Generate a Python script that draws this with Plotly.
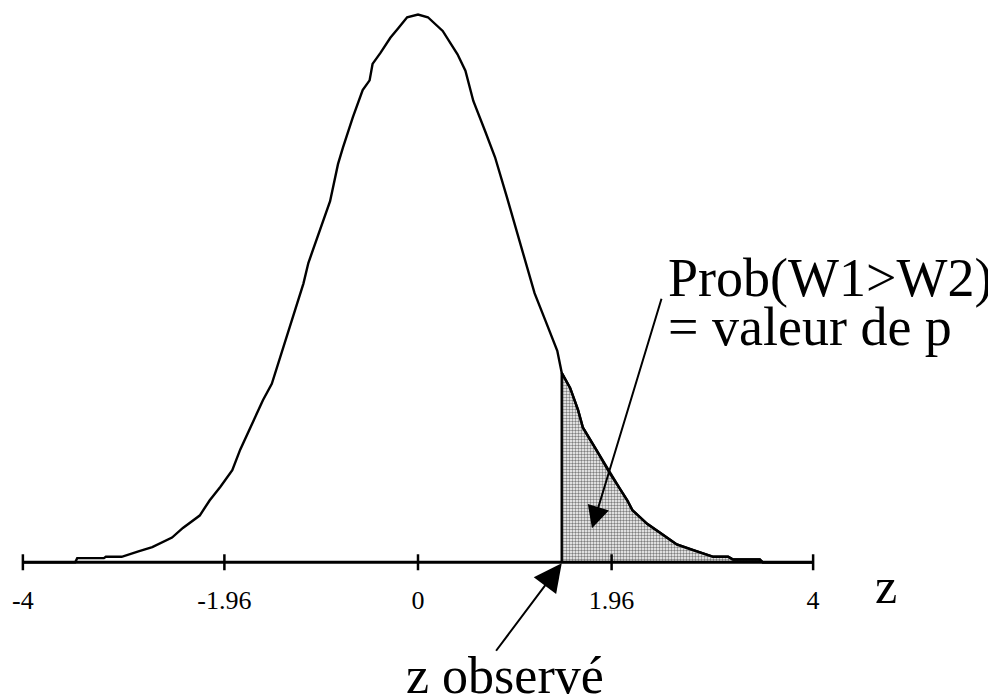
import plotly.graph_objects as go

# ---- data ----
curve_x = [-4.00, -3.47, -3.45, -3.18, -3.16, -3.00, -2.83, -2.69, -2.49, -2.38, -2.21, -2.11,
           -2.00, -1.88, -1.80, -1.57, -1.48, -1.40, -1.30, -1.20, -1.16, -1.11, -1.04, -0.97,
           -0.89, -0.81, -0.76, -0.66, -0.56, -0.49, -0.46, -0.38, -0.28, -0.20, -0.11, 0.00,
           0.10, 0.25, 0.40, 0.48, 0.56, 0.68, 0.78, 0.90, 1.03, 1.10, 1.18, 1.29, 1.41, 1.455,
           1.54, 1.62, 1.67, 1.82, 1.94, 2.04, 2.12, 2.17, 2.32, 2.48, 2.62, 2.78, 2.99, 3.14,
           3.19, 3.46, 3.49, 4.00]
curve_y = [0.000, 0.000, 0.003, 0.003, 0.004, 0.004, 0.008, 0.011, 0.018, 0.025, 0.034, 0.045,
           0.055, 0.067, 0.082, 0.118, 0.130, 0.148, 0.170, 0.193, 0.203, 0.218, 0.232, 0.247,
           0.263, 0.290, 0.302, 0.324, 0.344, 0.351, 0.363, 0.371, 0.382, 0.389, 0.397, 0.399,
           0.397, 0.387, 0.370, 0.358, 0.336, 0.314, 0.295, 0.266, 0.234, 0.215, 0.196, 0.176,
           0.154, 0.138, 0.127, 0.111, 0.098, 0.080, 0.065, 0.054, 0.045, 0.038, 0.028, 0.020,
           0.013, 0.009, 0.004, 0.004, 0.002, 0.002, 0.000, 0.000]
z_obs = 1.455
tick_vals = [-4, -1.96, 0, 1.96, 4]
tick_text = ["-4", "-1.96", "0", "1.96", "4"]
axis_title = "z"
label_obs = "z observé"
label_p1 = "Prob(W1>W2)"
label_p2 = "= valeur de p"

# ---- geometry (screen pixels; the page body adds an 8px offset) ----
OFF = 8
W_FIG, H_FIG = 996, 700
X0_PX, X_SCALE = 418.0 - OFF, 98.8      # px of z=0 inside the figure, px per unit
Y0_PX, Y_SCALE = 562.0 - OFF, 1373.0    # px of density 0 inside the figure, px per unit
x_rng = [-4.1, 4.1]
y_rng = [-0.010, 0.4030]
m_l = X0_PX + x_rng[0] * X_SCALE
m_r = W_FIG - (X0_PX + x_rng[1] * X_SCALE)
m_t = max(0.0, Y0_PX - y_rng[1] * Y_SCALE)
m_b = H_FIG - (Y0_PX - y_rng[0] * Y_SCALE)
plot_w = W_FIG - m_l - m_r
plot_h = H_FIG - m_t - m_b


def dx(px):
    return (px - OFF - X0_PX) / X_SCALE


def dy(py):
    return (Y0_PX - (py - OFF)) / Y_SCALE


def paper_x(px):
    return (px - OFF - m_l) / plot_w


def paper_y(py):
    return (H_FIG - m_b - (py - OFF)) / plot_h


FONT = "Liberation Serif, Times New Roman, serif"

tail_x = [z_obs] + [x for x in curve_x if x >= z_obs]
tail_y = [0.0] + [y for x, y in zip(curve_x, curve_y) if x >= z_obs]

fig = go.Figure()
fig.add_trace(go.Scatter(
    x=tail_x, y=tail_y, mode="lines", fill="tozeroy",
    line=dict(color="black", width=2.4),
    fillcolor="white",
    fillpattern=dict(shape=".", size=3, solidity=0.5, fgcolor="black", bgcolor="white"),
    hoverinfo="skip", showlegend=False))
fig.add_trace(go.Scatter(
    x=curve_x, y=curve_y, mode="lines",
    line=dict(color="black", width=2.4),
    hoverinfo="skip", showlegend=False))

shapes = [dict(type="line", xref="x", yref="y", x0=-4, x1=4, y0=0, y1=0,
               line=dict(color="black", width=3))]
for tv in tick_vals:
    shapes.append(dict(type="line", xref="x", yref="y", x0=tv, x1=tv,
                       ysizemode="pixel", yanchor=0, y0=-8, y1=8,
                       line=dict(color="black", width=2.5)))

annotations = [
    dict(text=axis_title, xref="paper", yref="paper", x=paper_x(886), y=paper_y(586),
         xanchor="center", yanchor="middle", showarrow=False,
         font=dict(family=FONT, size=50, color="black")),
    dict(text=label_obs, xref="paper", yref="paper", x=paper_x(505), y=paper_y(675),
         xanchor="center", yanchor="middle", showarrow=False,
         font=dict(family=FONT, size=52, color="black")),
    dict(text=label_p1, xref="paper", yref="paper", x=paper_x(666), y=paper_y(278),
         xanchor="left", yanchor="middle", showarrow=False,
         font=dict(family=FONT, size=54, color="black")),
    dict(text=label_p2, xref="paper", yref="paper", x=paper_x(666), y=paper_y(327),
         xanchor="left", yanchor="middle", showarrow=False,
         font=dict(family=FONT, size=54, color="black")),
    dict(text="", x=z_obs, y=dy(563), xref="x", yref="y",
         ax=dx(495), ay=dy(652), axref="x", ayref="y",
         showarrow=True, arrowhead=2, arrowsize=2.8, arrowwidth=2, arrowcolor="black"),
    dict(text="", x=dx(592), y=dy(528), xref="x", yref="y",
         ax=dx(662), ay=dy(297), axref="x", ayref="y",
         showarrow=True, arrowhead=2, arrowsize=2.2, arrowwidth=2, arrowcolor="black"),
]

fig.update_layout(
    width=W_FIG, height=H_FIG,
    margin=dict(l=m_l, r=m_r, t=m_t, b=m_b, pad=0),
    paper_bgcolor="white", plot_bgcolor="white",
    shapes=shapes, annotations=annotations,
    xaxis=dict(range=x_rng, showgrid=False, zeroline=False, showline=False,
               tickvals=tick_vals, ticktext=tick_text, ticks="outside", ticklen=1,
               tickcolor="rgba(0,0,0,0)",
               tickfont=dict(family=FONT, size=26, color="black"), fixedrange=True),
    yaxis=dict(range=y_rng, visible=False, fixedrange=True),
)

fig.write_html("out.html")
